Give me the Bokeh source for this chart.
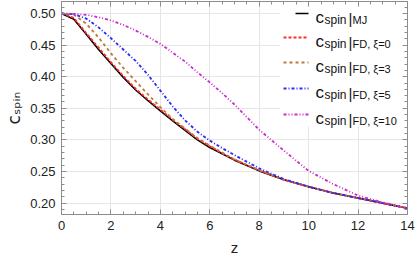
from bokeh.plotting import figure
from bokeh.models import (Range1d, LinearAxis, SingleIntervalTicker, NumeralTickFormatter,
                          Label, BoxAnnotation, CustomJSTickFormatter)
from bokeh.embed import file_html
from bokeh.resources import INLINE

# ---- data ----
z = [0, 0.5, 1, 1.5, 2, 2.5, 3, 3.5, 4, 4.5, 5, 5.5, 6, 6.5, 7, 8, 9, 10, 11, 12, 13, 14]
c_mj = [0.500, 0.491, 0.467, 0.443, 0.421, 0.399, 0.379, 0.362, 0.346, 0.330, 0.315, 0.300,
        0.288, 0.278, 0.268, 0.251, 0.237, 0.226, 0.216, 0.208, 0.200, 0.192]
c_fd0 = [0.500, 0.493, 0.469, 0.446, 0.423, 0.401, 0.381, 0.364, 0.348, 0.332, 0.317, 0.302,
         0.290, 0.279, 0.269, 0.252, 0.237, 0.226, 0.216, 0.208, 0.200, 0.192]
c_fd3 = [0.500, 0.498, 0.484, 0.462, 0.437, 0.414, 0.393, 0.372, 0.352, 0.333, 0.318, 0.303,
         0.291, 0.280, 0.269, 0.252, 0.237, 0.226, 0.216, 0.208, 0.200, 0.192]
c_fd5 = [0.500, 0.499, 0.492, 0.478, 0.461, 0.443, 0.425, 0.403, 0.378, 0.353, 0.331, 0.313,
         0.299, 0.287, 0.276, 0.255, 0.238, 0.226, 0.216, 0.208, 0.200, 0.192]
c_fd10 = [0.500, 0.4995, 0.498, 0.494, 0.489, 0.482, 0.473, 0.463, 0.452, 0.438, 0.424, 0.407,
          0.391, 0.374, 0.356, 0.316, 0.283, 0.251, 0.230, 0.212, 0.201, 0.192]

series_subs = ["MJ", "FD, ξ=0", "FD, ξ=3", "FD, ξ=5", "FD, ξ=10"]
x_axis_title = "z"
y_axis_title = "cₛₚᵢₙ"

X0, X1 = 0, 14
Y0, Y1 = 0.182, 0.519

p = figure(width=415, height=260, output_backend="svg", toolbar_location=None,
           x_range=Range1d(X0, X1), y_range=Range1d(Y0, Y1),
           min_border_left=61, min_border_right=8, min_border_top=1, min_border_bottom=46,
           x_axis_label=x_axis_title, y_axis_label=y_axis_title)
p.background_fill_color = "white"
p.outline_line_color = "#8c8c8c"

frame_col = "#8c8c8c"
FONT = "Liberation Sans"

xt = SingleIntervalTicker(interval=2, num_minor_ticks=4)
yt = SingleIntervalTicker(interval=0.05, num_minor_ticks=5)
blank = CustomJSTickFormatter(code="return '';")

def style_axis(ax, labels=True):
    ax.axis_line_color = frame_col
    ax.major_tick_line_color = frame_col
    ax.minor_tick_line_color = frame_col
    ax.major_tick_in = 5
    ax.major_tick_out = 0
    ax.minor_tick_in = 3
    ax.minor_tick_out = 0
    ax.major_label_text_font = FONT
    ax.major_label_text_color = "#222222"
    if labels:
        ax.major_label_text_font_size = "13px"
        ax.major_label_standoff = 6
    else:
        ax.formatter = blank
        ax.major_label_text_font_size = "1px"
        ax.major_label_standoff = 0

p.xaxis.ticker = xt
p.yaxis.ticker = yt
p.yaxis.formatter = NumeralTickFormatter(format="0.00")
style_axis(p.xaxis[0])
style_axis(p.yaxis[0])
for ax in (p.xaxis[0], p.yaxis[0]):
    ax.axis_label_text_font = FONT
    ax.axis_label_text_font_style = "normal"
    ax.axis_label_text_color = "#222222"
p.xaxis.axis_label_text_font_size = "15px"
p.xaxis.axis_label_standoff = 6
p.yaxis.axis_label_text_font = "DejaVu Sans"
p.yaxis.axis_label_text_font_size = "17px"
p.yaxis.axis_label_standoff = 3

ra = LinearAxis(ticker=SingleIntervalTicker(interval=0.05, num_minor_ticks=5))
style_axis(ra, labels=False)
p.add_layout(ra, "right")
ta = LinearAxis(ticker=SingleIntervalTicker(interval=2, num_minor_ticks=4))
style_axis(ta, labels=False)
p.add_layout(ta, "above")

p.xgrid.ticker = xt
p.ygrid.ticker = yt
p.grid.grid_line_color = "#e6e6e6"
p.grid.grid_line_width = 1

# helpers mapping reference-image pixels to data coordinates (legend placement)
def fx(px):
    return (px - 61.0) / (407.0 - 61.0) * (X1 - X0) + X0

def fy(py):
    return Y1 - (py - 1.0) / (214.0 - 1.0) * (Y1 - Y0)

# legend background
p.add_layout(BoxAnnotation(left=fx(280), right=X1, bottom=fy(126), top=Y1,
                           fill_color="white", fill_alpha=1.0, line_alpha=0,
                           level="underlay"))

styles = [
    dict(color="black", dash="solid", width=1.6),
    dict(color="#ff2a2a", dash="3 2", width=1.8),
    dict(color="#bb7a3c", dash="3 3", width=1.8),
    dict(color="#2a2aff", dash="3 2 1 2", width=1.8),
    dict(color="#cc2acc", dash="3 2 1 2 1 2", width=1.8),
]
ys = [c_mj, c_fd0, c_fd3, c_fd5, c_fd10]

for i in range(5):
    s = styles[i]
    p.line(z, ys[i], line_color=s["color"], line_dash=s["dash"], line_width=s["width"])

rows = [13, 37, 62, 88, 114]
for i, ry in enumerate(rows):
    s = styles[i]
    xs0 = 295 if i == 0 else 283
    p.line([fx(xs0), fx(308)], [fy(ry), fy(ry)], line_color=s["color"],
           line_dash=s["dash"], line_width=s["width"])
    p.add_layout(Label(x=fx(315), y=fy(ry + 4), text="c", text_font=FONT,
                       text_font_size="17px", text_color="#111111",
                       text_align="left", text_baseline="alphabetic"))
    p.add_layout(Label(x=fx(324), y=fy(ry + 6), text="spin", text_font=FONT,
                       text_font_size="12px", text_color="#111111",
                       text_align="left", text_baseline="alphabetic"))
    p.add_layout(Label(x=fx(348), y=fy(ry + 5), text="|", text_font=FONT,
                       text_font_size="15px", text_color="#111111",
                       text_align="left", text_baseline="alphabetic"))
    p.add_layout(Label(x=fx(352), y=fy(ry + 6.5), text=series_subs[i], text_font=FONT,
                       text_font_size="11px", text_color="#111111",
                       text_align="left", text_baseline="alphabetic"))

open("out.html", "w").write(file_html(p, INLINE))
